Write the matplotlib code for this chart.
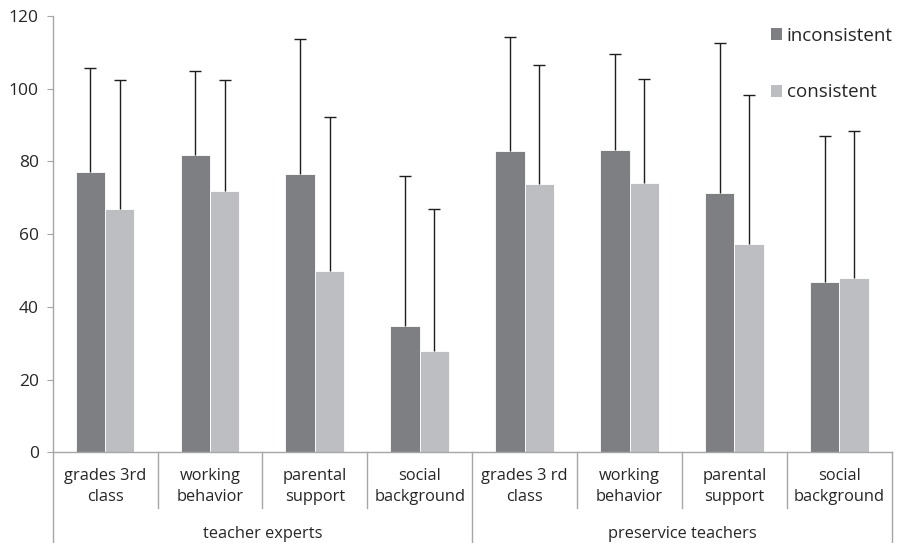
import matplotlib
matplotlib.use("Agg")
import matplotlib.pyplot as plt
from matplotlib.lines import Line2D
from matplotlib.patches import Patch
import numpy as np

# mean scores and upper error limits per criterion
groups = ["teacher experts", "preservice teachers"]
categories = [
    "grades 3rd\nclass", "working\nbehavior", "parental\nsupport", "social\nbackground",
    "grades 3 rd\nclass", "working\nbehavior", "parental\nsupport", "social\nbackground",
]
inconsistent = [77, 81.7, 76.5, 34.8, 82.9, 83.1, 71.3, 46.9]
inconsistent_top = [105.6, 104.9, 113.6, 76.0, 114.1, 109.5, 112.5, 87.1]
consistent = [66.9, 71.9, 49.9, 27.9, 73.9, 74.1, 57.3, 47.9]
consistent_top = [102.3, 102.5, 92.3, 67.0, 106.6, 102.7, 98.3, 88.4]
y_ticks = [0, 20, 40, 60, 80, 100, 120]

DARK = "#7e7f83"
LIGHT = "#bdbec2"
AXIS = "#a6a6a6"
TEXT = "#262626"

plt.rcParams["font.family"] = ["Open Sans", "DejaVu Sans"]

fig = plt.figure(figsize=(8.97, 5.43), dpi=100)
ax = fig.add_axes([0.0587, 0.167, 0.9354, 0.8035])

x = np.arange(len(categories))
width = 0.28

inc = np.array(inconsistent)
con = np.array(consistent)
ax.bar(x - width / 2, inc, width, color=DARK, edgecolor="white", linewidth=0.6, zorder=2)
ax.bar(x + width / 2, con, width, color=LIGHT, edgecolor="white", linewidth=0.6, zorder=2)

err_kw = dict(fmt="none", ecolor="#1e1e1e", elinewidth=1.0, capsize=4.2, capthick=1.0, zorder=3)
for xs, vals, tops in [(x - width / 2, inc, inconsistent_top), (x + width / 2, con, consistent_top)]:
    _, caps, _ = ax.errorbar(xs, vals, yerr=[np.zeros_like(vals), np.array(tops) - vals], **err_kw)
    # only the upper whisker carries a cap
    caps[0].set_visible(False)

ax.set_xlim(-0.5, len(categories) - 0.5)
ax.set_ylim(0, 120)
ax.set_yticks(y_ticks)
ax.tick_params(axis="y", length=4, color=AXIS, labelsize=12.5, labelcolor=TEXT, pad=6)
ax.set_xticks([])

for side in ["top", "right", "left"]:
    ax.spines[side].set_visible(False)
ax.spines["bottom"].set_color(AXIS)
ax.spines["bottom"].set_linewidth(1.0)

trans = ax.get_xaxis_transform()
# left axis line runs down through the label rows
ax.add_line(Line2D([-0.5, -0.5], [-0.215, 1.0], transform=trans, color=AXIS, lw=1.0, clip_on=False))
# short dividers between categories, long ones between groups
for b in np.arange(0.5, len(categories) - 0.5, 1.0):
    bottom = -0.215 if b == 3.5 else -0.128
    ax.add_line(Line2D([b, b], [bottom, 0], transform=trans, color=AXIS, lw=1.0, clip_on=False))
ax.add_line(Line2D([len(categories) - 0.5] * 2, [-0.215, 0], transform=trans, color=AXIS, lw=1.0, clip_on=False))

for xi, label in zip(x, categories):
    ax.text(xi, -0.079, label, transform=trans, ha="center", va="center",
            fontsize=11.8, color=TEXT, linespacing=1.4)
for gi, name in enumerate(groups):
    ax.text(gi * 4 + 1.5, -0.187, name, transform=trans, ha="center", va="center",
            fontsize=11.8, color=TEXT)

handles = [Patch(facecolor=DARK, edgecolor="none"), Patch(facecolor=LIGHT, edgecolor="none")]
ax.legend(handles, ["inconsistent", "consistent"], loc="upper right",
          bbox_to_anchor=(1.0215, 1.014), frameon=False, fontsize=13.5,
          handlelength=0.6, handleheight=0.6, handletextpad=0.25,
          labelspacing=2.05, labelcolor=TEXT)

fig.savefig("out.png", dpi=100)
